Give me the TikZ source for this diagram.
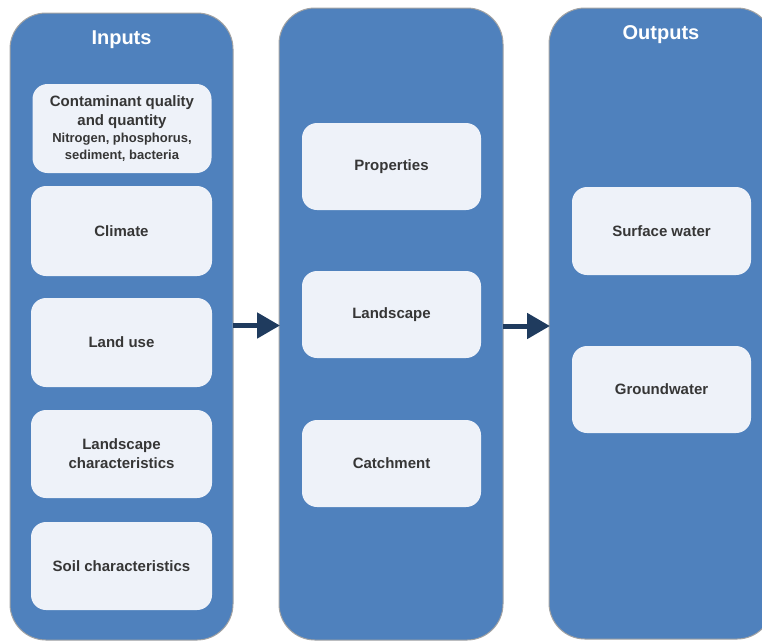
\documentclass[tikz,border=0pt]{standalone}
\usepackage{fontspec}
\setmainfont{Liberation Sans}
\usetikzlibrary{arrows.meta}
\definecolor{panelblue}{HTML}{4F81BD}
\definecolor{paneledge}{HTML}{A3A3A3}
\definecolor{boxfill}{HTML}{EEF2F9}
\definecolor{boxtext}{HTML}{363636}
\definecolor{arrowblue}{HTML}{1F3B5E}
\tikzset{
  panel/.style={draw=paneledge, line width=1pt, fill=panelblue, rounded corners=36pt,
    inner sep=0pt, outer sep=0pt},
  itembox/.style={fill=boxfill, rounded corners=15pt, minimum width=179pt, minimum height=88pt,
    inner sep=0pt, align=center, text=boxtext, font=\bfseries\fontsize{15}{19}\selectfont},
  paneltitle/.style={text=white, font=\bfseries\fontsize{20}{24}\selectfont, inner sep=0pt},
  flow/.style={arrowblue, line width=5pt, -{Triangle[length=23pt,width=25pt]}, shorten >=-1pt}
}
\begin{document}
\begin{tikzpicture}[x=1pt,y=-1pt]
\useasboundingbox (0,0) rectangle (762,641);
\clip (0,0) rectangle (762,641);
% panels
\node[panel, minimum width=223pt, minimum height=627pt] (inputs) at (121.5,326.5) {};
\node[panel, minimum width=224pt, minimum height=632pt] (middle) at (391,324) {};
\node[panel, minimum width=224pt, minimum height=631pt] (outputs) at (661,323.5) {};
% titles
\node[paneltitle] (tin) at (121.5,40) {Inputs};
\node[paneltitle] (tout) at (661,35) {Outputs};
% input boxes
\node[itembox, minimum height=89pt] (contam) at (122,128.5) {Contaminant quality\\and quantity\\[-2pt]{\fontsize{13}{17}\selectfont Nitrogen, phosphorus,}\\[-2pt]{\fontsize{13}{17}\selectfont sediment, bacteria}};
\node[itembox, minimum width=181pt, minimum height=90pt] (climate) at (121.5,231) {Climate};
\node[itembox, minimum width=181pt, minimum height=89pt] (landuse) at (121.5,342.5) {Land use};
\node[itembox, minimum width=181pt] (landchar) at (121.5,454) {Landscape\\characteristics};
\node[itembox, minimum width=181pt] (soil) at (121.5,566) {Soil characteristics};
% middle boxes
\node[itembox, minimum height=87pt] (props) at (391.5,166.5) {Properties};
\node[itembox, minimum height=87pt] (landscape) at (391.5,314.5) {Landscape};
\node[itembox, minimum height=87pt] (catch) at (391.5,463.5) {Catchment};
% output boxes
\node[itembox] (surface) at (661.5,231) {Surface water};
\node[itembox, minimum height=87pt] (ground) at (661.5,389.5) {Groundwater};
% arrows
\coordinate (a1s) at (233,325.5);
\coordinate (a2s) at (503,326);
\draw[flow] (a1s) -- (a1s -| middle.west);
\draw[flow] (a2s) -- (a2s -| outputs.west);
\end{tikzpicture}
\end{document}
